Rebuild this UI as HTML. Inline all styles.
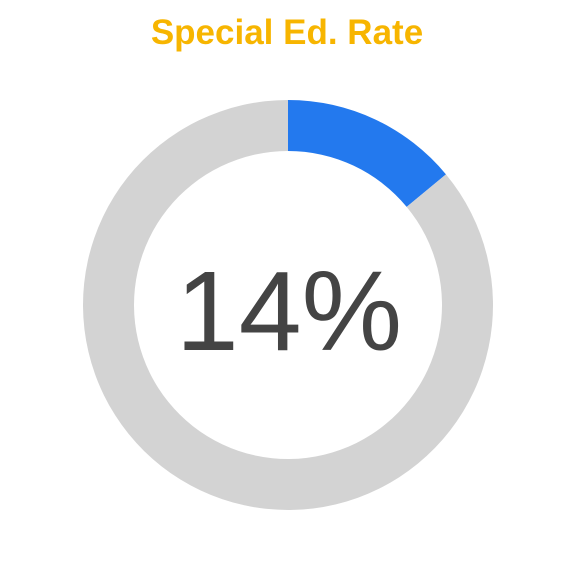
<!DOCTYPE html>
<html>
<head>
<meta charset="utf-8">
<style>
html,body{margin:0;padding:0;background:#fff;}
svg{display:block;}
</style>
</head>
<body>
<svg id="chart" width="576" height="576" viewBox="0 0 576 576">
  <text x="287" y="44" text-anchor="middle" font-family="Liberation Sans, sans-serif" font-weight="bold" font-size="35" fill="#F7B500">Special Ed. Rate</text>
  <g id="slices"></g>
  <text id="center-label" x="289" y="350" text-anchor="middle" font-family="Liberation Sans, sans-serif" font-size="113" fill="#444444"></text>
</svg>
<script>
const categories = ["Special Ed.", "Other"];
const values = [14, 86];
const colors = ["#2379EE", "#D3D3D3"];
const labelText = ["14%"];

const cx = 288, cy = 305, rOut = 205, rIn = 154;
const total = values.reduce((a,b)=>a+b,0);
function angle(v){ return v/total*2*Math.PI; }
function pt(r,a){ return [cx + r*Math.sin(a), cy - r*Math.cos(a)]; }
const g = document.getElementById('slices');
let start = 0;
values.forEach((v,i)=>{
  const end = start + angle(v);
  const large = (end-start) > Math.PI ? 1 : 0;
  const [x1,y1]=pt(rOut,start),[x2,y2]=pt(rOut,end),[x3,y3]=pt(rIn,end),[x4,y4]=pt(rIn,start);
  const p = document.createElementNS('http://www.w3.org/2000/svg','path');
  p.setAttribute('d',`M${x1},${y1} A${rOut},${rOut} 0 ${large} 1 ${x2},${y2} L${x3},${y3} A${rIn},${rIn} 0 ${large} 0 ${x4},${y4} Z`);
  p.setAttribute('fill',colors[i]);
  
  
  g.appendChild(p);
  start = end;
});
document.getElementById('center-label').textContent = labelText[0];
</script>
</body>
</html>
